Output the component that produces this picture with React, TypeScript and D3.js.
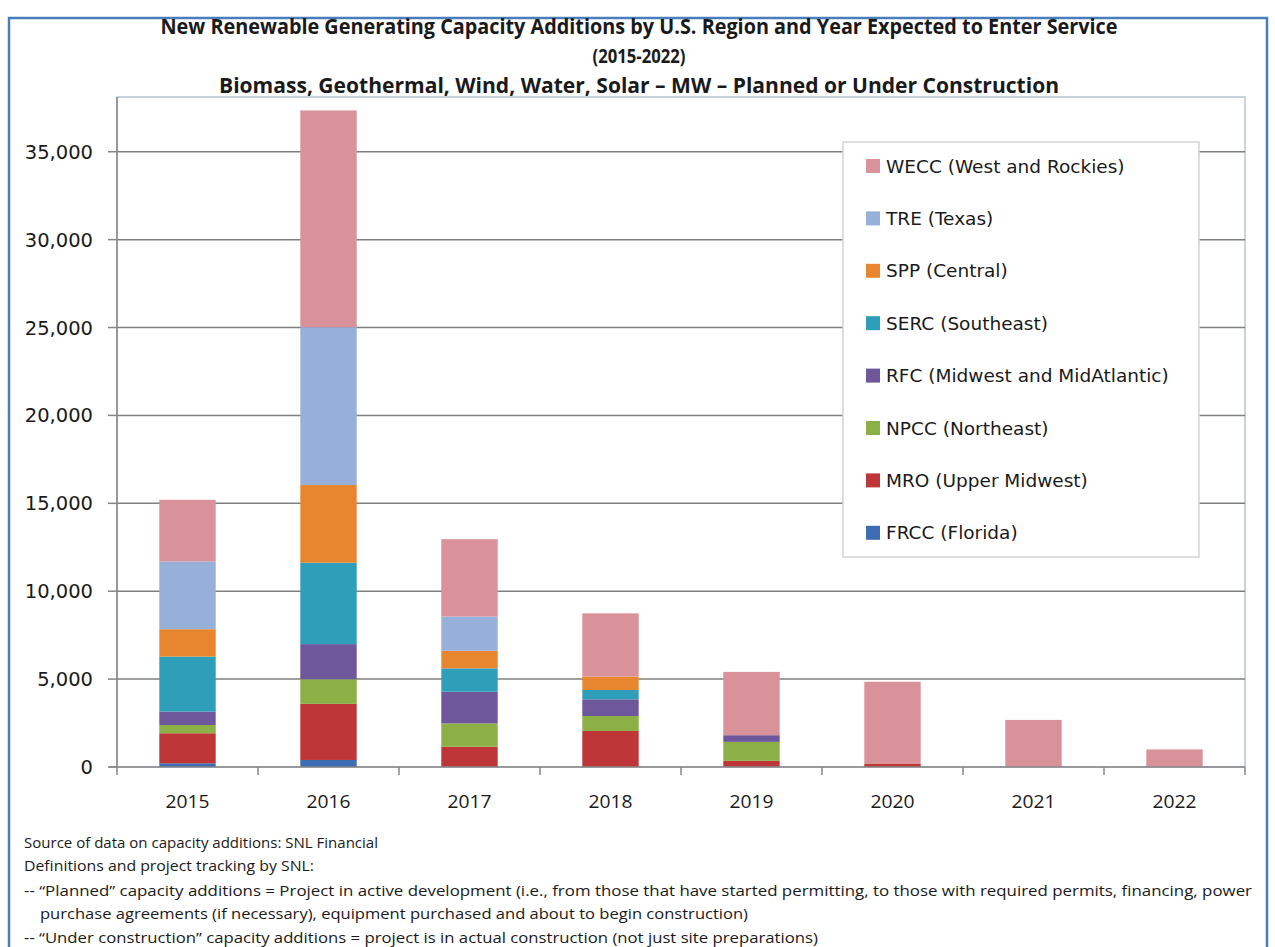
import React from "react";
import * as d3 from "d3";

const years = ["2015", "2016", "2017", "2018", "2019", "2020", "2021", "2022"];

// stack order: bottom -> top
const regions = [
  "FRCC (Florida)",
  "MRO (Upper Midwest)",
  "NPCC (Northeast)",
  "RFC (Midwest and MidAtlantic)",
  "SERC (Southeast)",
  "SPP (Central)",
  "TRE (Texas)",
  "WECC (West and Rockies)",
];

const frcc = [210, 400, 0, 0, 0, 0, 0, 0];
const mro = [1710, 3190, 1150, 2050, 350, 200, 0, 0];
const npcc = [470, 1400, 1330, 850, 1080, 0, 0, 0];
const rfc = [760, 2000, 1800, 950, 380, 0, 0, 0];
const serc = [3130, 4630, 1330, 530, 0, 0, 0, 0];
const spp = [1560, 4420, 1000, 760, 0, 0, 0, 0];
const tre = [3850, 8980, 1950, 0, 0, 0, 0, 0];
const wecc = [3510, 12330, 4400, 3600, 3600, 4650, 2680, 1000];

const seriesValues = [frcc, mro, npcc, rfc, serc, spp, tre, wecc];

const colors = [
  "#3D6DB5",
  "#BE3638",
  "#8CAF46",
  "#6E579B",
  "#2F9FB9",
  "#E8862F",
  "#97B0DA",
  "#D9929A",
];

const yTicks = [0, 5000, 10000, 15000, 20000, 25000, 30000, 35000];

const titleLines = [
  "New Renewable Generating Capacity Additions by U.S. Region and Year Expected to Enter Service",
  "(2015-2022)",
  "Biomass, Geothermal, Wind, Water, Solar \u2013 MW \u2013 Planned or Under Construction",
];

const notes = [
  "Source of data on capacity additions:  SNL Financial",
  "Definitions and project tracking by SNL:",
  "-- \u201cPlanned\u201d capacity additions = Project in active development (i.e.,  from those that have started permitting, to those with required permits, financing, power",
  "purchase agreements (if necessary), equipment purchased and about to begin construction)",
  "-- \u201cUnder construction\u201d capacity additions = project is in actual construction (not just site preparations)",
];

export default function App() {
  const W = 1275;
  const H = 947;
  const left = 117;
  const right = 1245;
  const top = 97;
  const bottom = 767;

  const x = d3.scaleBand<string>().domain(years).range([left, right]).paddingInner(0.6).paddingOuter(0.3);
  const y = d3.scaleLinear().domain([0, 38000]).range([bottom, 99]);

  const table = years.map((yr, i) => {
    const row: any = { year: yr };
    regions.forEach((r, k) => (row[r] = seriesValues[k][i]));
    return row;
  });
  const stacked = d3.stack<any>().keys(regions)(table);

  const step = x.step();
  const boundaries = d3.range(years.length + 1).map((i) => left + i * step);

  const legendItems = regions.map((r, k) => ({ name: r, color: colors[k] })).reverse();
  const legendY0 = 166;
  const legendStep = 52.4;

  const titleWidths = [957, 93, 840];
  const titleSizes = [20.5, 19.5, 20.5];
  const titleYs = [34, 63, 93];
  const noteX = [24, 24, 24, 40, 24];
  const noteW = [354, 290, 1228, 708, 794];
  const noteY = [848, 871, 896, 919, 943];

  return (
    <svg
      width={W}
      height={H}
      style={{ position: "absolute", left: 0, top: 0, background: "#fff" }}
    >
      <rect x={0} y={0} width={W} height={H} fill="#fff" />
      {/* outer frame */}
      <rect x={9} y={18} width={1258} height={960} fill="none" stroke="#4A7EBB" strokeWidth={2.5} />

      {/* titles */}
      {titleLines.map((t, i) => (
        <text
          key={i}
          x={639}
          y={titleYs[i]}
          textAnchor="middle"
          fontFamily="'Open Sans', 'DejaVu Sans', sans-serif"
          fontWeight="bold"
          fontSize={titleSizes[i]}
          fill="#1a1a1a"
          textLength={titleWidths[i]}
          lengthAdjust="spacingAndGlyphs"
        >
          {t}
        </text>
      ))}

      {/* plot area border */}
      <rect x={left} y={top} width={right - left} height={bottom - top} fill="none" stroke="#B9C4D6" strokeWidth={1.5} />

      {/* gridlines */}
      {yTicks.filter((v) => v > 0).map((v) => (
        <line key={v} x1={left} x2={right} y1={y(v)} y2={y(v)} stroke="#7f7f7f" strokeWidth={1.5} />
      ))}

      {/* bars */}
      {stacked.map((s, k) => (
        <g key={s.key} fill={colors[k]}>
          {s.map((d, i) =>
            d[1] - d[0] > 0 ? (
              <rect
                key={i}
                x={x(years[i])}
                y={y(d[1])}
                width={x.bandwidth()}
                height={y(d[0]) - y(d[1])}
              />
            ) : null
          )}
        </g>
      ))}

      {/* axes */}
      <line x1={left} x2={left} y1={top} y2={bottom} stroke="#868686" strokeWidth={1.5} />
      <line x1={left - 8} x2={right} y1={bottom} y2={bottom} stroke="#868686" strokeWidth={1.5} />
      {yTicks.map((v) => (
        <g key={v}>
          <line x1={left - 9} x2={left} y1={y(v)} y2={y(v)} stroke="#868686" strokeWidth={1.5} />
          <text
            x={93}
            y={y(v) + 7}
            textAnchor="end"
            fontFamily="'DejaVu Sans', Verdana, sans-serif"
            fontSize={19.5}
            fill="#1a1a1a"
          >
            {d3.format(",")(v)}
          </text>
        </g>
      ))}
      {boundaries.map((bx, i) => (
        <line key={i} x1={bx} x2={bx} y1={bottom} y2={bottom + 8} stroke="#868686" strokeWidth={1.5} />
      ))}
      {years.map((yr) => (
        <text
          key={yr}
          x={(x(yr) as number) + x.bandwidth() / 2}
          y={808}
          textAnchor="middle"
          fontFamily="'Open Sans', sans-serif"
          fontSize={19}
          fill="#1a1a1a"
          textLength={44}
          lengthAdjust="spacingAndGlyphs"
        >
          {yr}
        </text>
      ))}

      {/* legend */}
      <rect x={843} y={142} width={356} height={415} fill="#fff" stroke="#D3D3D3" strokeWidth={1.5} />
      {legendItems.map((it, i) => {
        const cy = legendY0 + i * legendStep;
        return (
          <g key={it.name}>
            <rect x={866} y={cy - 7} width={14} height={14} fill={it.color} />
            <text
              x={886}
              y={cy + 6.5}
              fontFamily="'DejaVu Sans', Verdana, sans-serif"
              fontSize={18.5}
              fill="#1a1a1a"
            >
              {it.name}
            </text>
          </g>
        );
      })}

      {/* notes */}
      {notes.map((n, i) => (
        <text
          key={i}
          x={noteX[i]}
          y={noteY[i]}
          fontFamily="'Open Sans', sans-serif"
          fontSize={14.5}
          fill="#1a1a1a"
          textLength={noteW[i]}
          lengthAdjust="spacingAndGlyphs"
        >
          {n}
        </text>
      ))}
    </svg>
  );
}
